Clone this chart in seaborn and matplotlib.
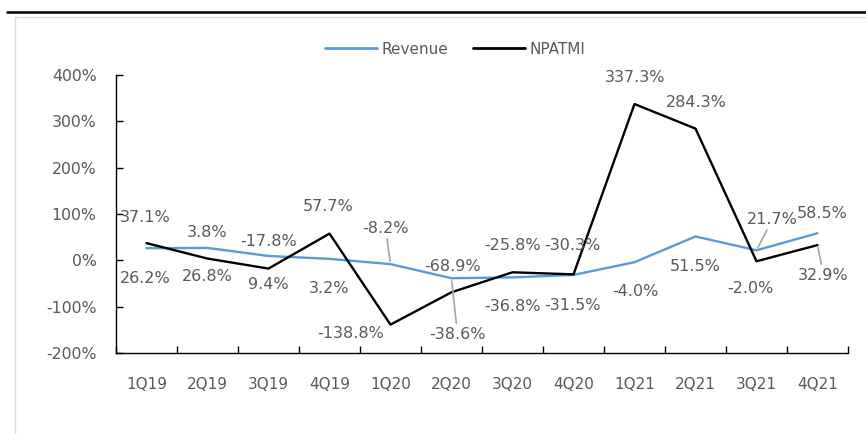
import pandas as pd
import matplotlib
matplotlib.use('Agg')
import matplotlib.pyplot as plt
import seaborn as sns
from matplotlib.lines import Line2D
from matplotlib.ticker import FixedLocator, FuncFormatter

# data (growth, %)
quarters = ['1Q19', '2Q19', '3Q19', '4Q19', '1Q20', '2Q20',
            '3Q20', '4Q20', '1Q21', '2Q21', '3Q21', '4Q21']
revenue = [26.2, 26.8, 9.4, 3.2, -8.2, -38.6,
           -36.8, -31.5, -4.0, 51.5, 21.7, 58.5]
npatmi = [37.1, 3.8, -17.8, 57.7, -138.8, -68.9,
          -25.8, -30.3, 337.3, 284.3, -2.0, 32.9]
y_ticks = [-200, -100, 0, 100, 200, 300, 400]

# label offsets in pixels (dx, dy) and whether a leader line is drawn
rev_off = [(-1, -30), (0, -29), (0, -29), (0, -30), (-5, 36), (6, -56),
           (0, -29), (-1, -31), (1, -29), (0, -30), (16, 31), (5, 20)]
rev_lead = [False, False, False, False, True, True,
            False, False, False, False, True, False]
np_off = [(-1, 26), (0, 26), (0, 27), (-1, 27), (-40, -9), (1, 26),
          (0, 27), (-1, 29), (1, 27), (1, 26), (-6, -27), (6, -30)]
np_lead = [False] * 11 + [True]

blue = '#5B9BD5'
grey_txt = '#595959'

df = pd.DataFrame({'quarter': quarters * 2,
                   'value': revenue + npatmi,
                   'series': ['Revenue'] * 12 + ['NPATMI'] * 12})

sns.set_style('white')
plt.rcParams['font.family'] = ['DejaVu Sans']

fig = plt.figure(figsize=(8.66, 4.34), dpi=100)
ax = fig.add_axes([116 / 866, 1 - 353 / 434, 732 / 866, 278 / 434])

sns.lineplot(data=df, x='quarter', y='value', hue='series',
             palette={'Revenue': blue, 'NPATMI': 'black'},
             linewidth=1.7, sort=False, legend=False, ax=ax)

ax.set_xlim(-0.5, 11.5)
ax.set_ylim(-200, 400)
ax.set_xlabel('')
ax.set_ylabel('')

ax.yaxis.set_major_locator(FixedLocator(y_ticks))
ax.yaxis.set_major_formatter(FuncFormatter(lambda v, p: f'{v:.0f}%'))
ax.set_xticks(range(len(quarters)))
ax.set_xticklabels(quarters)
ax.set_xticks([i - 0.5 for i in range(len(quarters) + 1)], minor=True)
ax.tick_params(axis='x', which='major', length=0, pad=17,
               labelsize=11, labelcolor=grey_txt)
ax.tick_params(axis='x', which='minor', direction='in', length=5,
               width=1, color='black', bottom=True)
ax.tick_params(axis='y', direction='in', length=5, width=1, color='black',
               left=True, pad=14, labelsize=11.3, labelcolor=grey_txt)

for s in ['top', 'right']:
    ax.spines[s].set_visible(False)
for s in ['left', 'bottom']:
    ax.spines[s].set_color('black')
    ax.spines[s].set_linewidth(1)


def put_labels(vals, offs, leads):
    for i, (v, (dx, dy), lead) in enumerate(zip(vals, offs, leads)):
        arrow = None
        if lead:
            arrow = dict(arrowstyle='-', color='#A6A6A6', lw=1.2,
                         shrinkA=0, shrinkB=2)
        ax.annotate(f'{v:.1f}%', xy=(i, v), xytext=(dx, dy),
                    textcoords='offset pixels', ha='center', va='center',
                    fontsize=11.5, color=grey_txt, arrowprops=arrow)


put_labels(npatmi, np_off, np_lead)
put_labels(revenue, rev_off, rev_lead)

handles = [Line2D([], [], color=blue, lw=2),
           Line2D([], [], color='black', lw=2)]
fig.legend(handles, ['Revenue', 'NPATMI'], loc='center',
           bbox_to_anchor=(455 / 866, 1 - 49 / 434), ncol=2, frameon=False,
           fontsize=11, handlelength=3.4, columnspacing=1.6,
           handletextpad=0.3, labelcolor=grey_txt)

# page decoration: black rule at top, light frame at left
fig.add_artist(Line2D([7 / 866, 1], [1 - 12 / 434] * 2, color='black',
                      lw=1.8, transform=fig.transFigure))
fig.add_artist(Line2D([15 / 866, 1], [1 - 17 / 434] * 2, color='#D9D9D9',
                      lw=1, transform=fig.transFigure))
fig.add_artist(Line2D([15 / 866] * 2, [0, 1 - 17 / 434], color='#D9D9D9',
                      lw=1, transform=fig.transFigure))

fig.savefig('out.png', dpi=100)
